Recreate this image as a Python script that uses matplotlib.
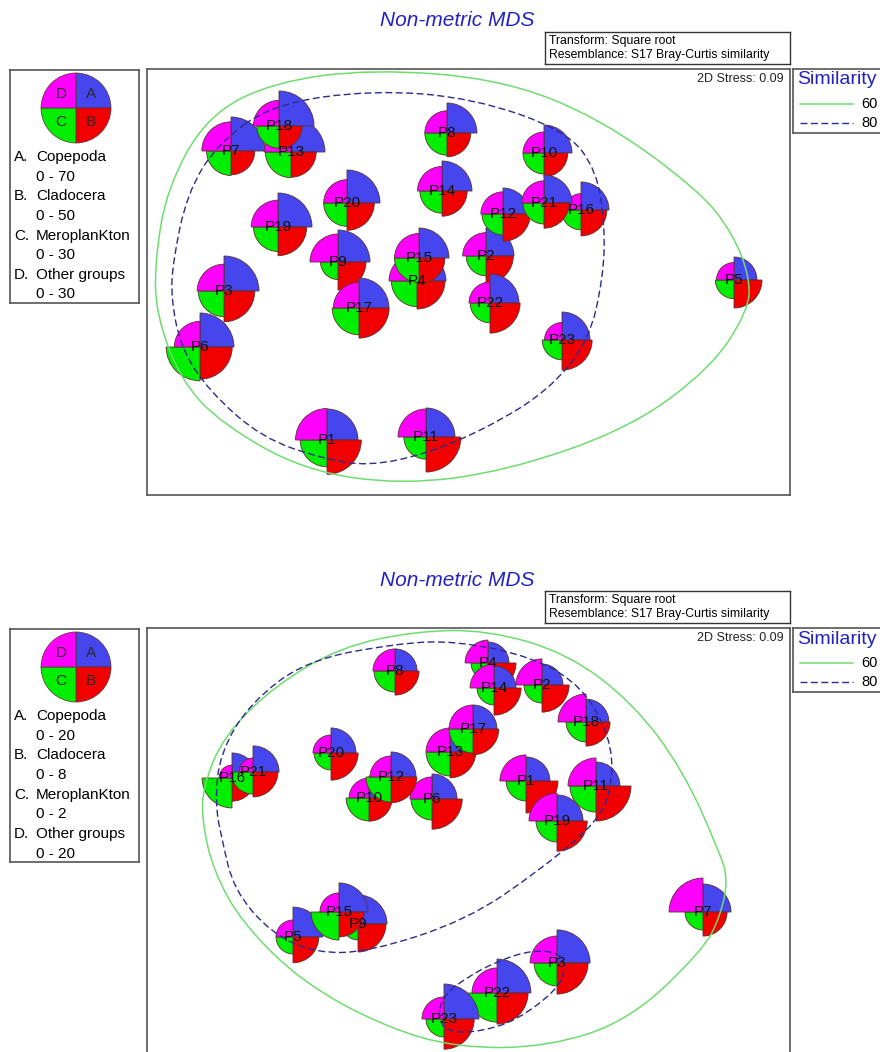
"""
Segmented bubble plots on non-metric MDS ordinations of zooplankton samples.
"""

import matplotlib

matplotlib.use("Agg")
import matplotlib.pyplot as plt
import numpy as np
from matplotlib.patches import PathPatch, Wedge
from matplotlib.path import Path

plt.rcParams.update({"font.family": ["Liberation Sans", "DejaVu Sans"]})

W, H = 880, 1052

SAMPLES = [f"P{i}" for i in range(1, 24)]
GROUPS = ["Copepoda", "Cladocera", "MeroplanKton", "Other groups"]

# --- first survey (ranges 0-70 / 0-50 / 0-30 / 0-30) ---
mds1_x = [-1.41, 0.18, -2.44, -0.51, 2.66, -2.68, -2.37, -0.21, -1.30, 0.76, -0.42, 0.35,
          -1.77, -0.26, -0.49, 1.13, -1.09, -1.89, -1.90, -1.21, 0.76, 0.22, 0.94]
mds1_y = [-1.58, 0.26, -0.09, 0.01, 0.02, -0.65, 1.31, 1.49, 0.20, 1.29, -1.55, 0.68,
          1.30, 0.91, 0.24, 0.72, -0.26, 1.56, 0.55, 0.79, 0.79, -0.21, -0.58]
cope1 = [62, 56, 70, 58, 46, 68, 68, 60, 64, 56, 58, 52, 68, 60, 60, 56, 60, 70, 68, 66, 56, 58, 56]
clad1 = [49, 39, 44, 40, 40, 46, 34, 34, 40, 34, 50, 39, 36, 36, 37, 37, 43, 33, 41, 39, 36, 43, 43]
mero1 = [23, 17, 22, 22, 16, 29, 21, 19, 15, 18, 19, 18, 22, 19, 21, 17, 23, 19, 21, 20, 18, 17, 17]
other1 = [27, 20, 23, 24, 15, 22, 25, 19, 24, 18, 24, 19, 23, 21, 21, 14, 22, 22, 23, 20, 19, 18, 15]
ranges1 = [70, 50, 30, 30]

# --- second survey (ranges 0-20 / 0-8 / 0-2 / 0-20) ---
mds2_x = [0.58, 0.74, 0.89, 0.20, -1.75, -0.36, 2.35, -0.73, -1.10, -0.99, 1.28, -0.77,
          -0.18, 0.26, -1.29, -2.36, 0.05, 1.18, 0.89, -1.37, -2.15, 0.29, -0.24]
mds2_y = [0.60, 1.56, -1.22, 1.78, -0.96, 0.42, -0.71, 1.70, -0.83, 0.43, 0.55, 0.64,
          0.89, 1.53, -0.71, 0.63, 1.12, 1.19, 0.20, 0.88, 0.69, -1.52, -1.78]
cope2 = [13.7, 12.0, 18.9, 12.0, 17.1, 14.3, 16.0, 12.6, 16.6, 12.6, 13.7, 14.3,
         13.7, 12.6, 16.6, 14.3, 13.7, 13.1, 14.9, 14.3, 14.9, 19.4, 20.0]
clad2 = [7.3, 6.2, 7.1, 6.4, 5.9, 6.9, 5.5, 5.5, 6.4, 5.3, 8.0, 5.9,
         5.9, 6.2, 5.7, 5.3, 5.9, 5.5, 6.9, 6.2, 5.7, 7.1, 6.9]
mero2 = [1.14, 1.03, 1.31, 0.97, 0.97, 1.20, 1.03, 1.20, 0.91, 1.31, 1.49, 1.43,
         1.37, 0.97, 1.60, 1.71, 1.37, 1.14, 1.20, 0.97, 1.26, 1.66, 1.03]
other2 = [14.9, 14.9, 15.4, 13.1, 9.7, 12.6, 19.4, 12.6, 10.3, 11.4, 16.0, 12.0,
          13.7, 13.7, 10.9, 7.4, 13.7, 16.0, 16.0, 10.3, 8.0, 14.3, 12.6]
ranges2 = [20, 8, 2, 20]

# similarity contours (control vertices of smoothed outlines)
sim60_1_x = [-0.95, 0.32, 1.32, 2.32, 2.65, 2.82, 2.80, 2.43, 1.62, 0.39, -0.67, -1.65,
             -2.46, -2.87, -3.12, -3.13, -3.01, -2.61, -1.95]
sim60_1_y = [2.13, 2.03, 1.64, 0.91, 0.48, 0.04, -0.29, -0.86, -1.46, -1.89, -2.03, -1.88,
             -1.42, -0.99, -0.32, 0.21, 0.94, 1.66, 2.00]
sim80_1_x = [-1.95, -0.95, 0.05, 0.99, 1.29, 1.37, 1.35, 1.21, 0.80, 0.19, -0.42, -0.99,
             -1.44, -2.06, -2.59, -2.87, -2.97, -2.95, -2.81, -2.51]
sim80_1_y = [1.78, 1.92, 1.84, 1.51, 1.11, 0.54, 0.04, -0.59, -1.09, -1.46, -1.72, -1.84,
             -1.77, -1.56, -1.09, -0.66, -0.16, 0.21, 0.88, 1.38]

sim60_2_x = [-1.28, -0.51, 0.19, 0.99, 1.65, 2.15, 2.52, 2.60, 2.52, 2.35, 1.62, 0.80,
             -0.10, -0.83, -1.65, -2.26, -2.55, -2.66, -2.65, -2.45, -1.95]
sim60_2_y = [1.94, 2.10, 2.11, 1.88, 1.38, 0.71, -0.12, -0.39, -0.76, -1.09, -1.79, -2.06,
             -2.07, -1.86, -1.42, -0.82, -0.29, 0.21, 0.54, 1.04, 1.54]
sim80_2a_x = [-1.61, -0.68, -0.11, 0.65, 1.15, 1.42, 1.45, 1.32, 0.72, -0.01, -0.99, -1.53,
              -1.97, -2.34, -2.46, -2.53, -2.48, -2.18]
sim80_2a_y = [1.81, 1.98, 2.00, 1.84, 1.54, 1.04, 0.61, 0.21, -0.29, -0.79, -1.11, -1.12,
              -0.92, -0.49, 0.01, 0.38, 0.88, 1.38]
sim80_2b_x = [-0.26, -0.01, 0.32, 0.65, 0.92, 0.98, 0.89, 0.49, 0.15, -0.18, -0.30]
sim80_2b_y = [-1.56, -1.36, -1.19, -1.09, -1.12, -1.27, -1.49, -1.79, -1.90, -1.92, -1.79]

SEG_COLORS = ["#4646ee", "#f20000", "#00ee00", "#ff00ff"]  # A, B, C, D
QUADRANTS = [(0, 90), (270, 360), (180, 270), (90, 180)]  # A, B, C, D
FULL_R = 0.35
TITLE_BLUE = "#2222c4"
FRAME = "#555555"


def closed_curve(xs, ys):
    """Smooth closed outline: quadratic Beziers through edge midpoints."""
    pts = np.column_stack([xs, ys])
    mids = (pts + np.roll(pts, -1, axis=0)) / 2
    verts = [mids[-1]]
    codes = [Path.MOVETO]
    for p, m in zip(pts, mids):
        verts += [p, m]
        codes += [Path.CURVE3, Path.CURVE3]
    return Path(verts, codes)


def draw_glyph(ax, x, y, radii, lw=0.6):
    for r, (t1, t2), c in zip(radii, QUADRANTS, SEG_COLORS):
        ax.add_patch(Wedge((x, y), r, t1, t2, facecolor=c, edgecolor="#5a3030", linewidth=lw))


def frame(ax):
    ax.set_xticks([])
    ax.set_yticks([])
    for s in ax.spines.values():
        s.set_color(FRAME)
        s.set_linewidth(1.2)


def draw_panel(top, xs, ys, values, ranges, contours60, contours80):
    ax = fig.add_axes([147 / W, 1 - (top + 426) / H, 643 / W, 426 / H])
    ax.set_xlim(-3.21, 3.22)
    ax.set_ylim(-2.13, 2.13)
    frame(ax)

    for i in range(len(xs)):
        radii = [FULL_R * values[k][i] / ranges[k] for k in range(4)]
        draw_glyph(ax, xs[i], ys[i], radii)

    for cx, cy in contours60:
        ax.add_patch(PathPatch(closed_curve(cx, cy), facecolor="none",
                               edgecolor="#6fdc6f", linewidth=1.1, zorder=5))
    for cx, cy in contours80:
        ax.add_patch(PathPatch(closed_curve(cx, cy), facecolor="none", edgecolor="#2c2c8a",
                               linewidth=1.0, linestyle=(0, (5, 2.5)), zorder=5))

    for name, x, y in zip(SAMPLES, xs, ys):
        ax.text(x, y, name, ha="center", va="center", fontsize=11, color="#111111",
                zorder=6)
    ax.text(3.16, 2.03, "2D Stress: 0.09", ha="right", va="center", fontsize=9, color="#222222")

    # title and resemblance box
    fig.text(457 / W, 1 - (top - 48) / H, "Non-metric MDS", ha="center", va="center",
             fontsize=15, style="italic", color=TITLE_BLUE)
    tb = fig.add_axes([545 / W, 1 - (top - 5) / H, 245 / W, 32 / H])
    frame(tb)
    tb.spines[:].set_color("#333333")
    tb.spines[:].set_linewidth(1.0)
    tb.text(0.015, 0.73, "Transform: Square root", transform=tb.transAxes,
            va="center", fontsize=8.8)
    tb.text(0.015, 0.27, "Resemblance: S17 Bray-Curtis similarity", transform=tb.transAxes,
            va="center", fontsize=8.8)

    # segment key
    key = fig.add_axes([10 / W, 1 - (top + 234) / H, 129 / W, 233 / H])
    key.set_xlim(0, 129)
    key.set_ylim(0, 233)
    frame(key)
    draw_glyph(key, 66, 233 - 38, [35] * 4, lw=0.5)
    for letter, dx, dy in [("A", 15, 14), ("B", 15, -14), ("C", -15, -14), ("D", -15, 14)]:
        key.text(66 + dx, 233 - 38 + dy, letter, ha="center", va="center", fontsize=11,
                 color="#2a2a2a")
    y0 = 233 - 87
    for k, (g, rng) in enumerate(zip(GROUPS, ranges)):
        yy = y0 - k * 39.3
        key.text(4, yy, "ABCD"[k] + ".", va="center", fontsize=11)
        key.text(26, yy, g, va="center", fontsize=11)
        key.text(26, yy - 19.6, f"0 - {rng}", va="center", fontsize=11)

    # similarity key
    sk = fig.add_axes([793 / W, 1 - (top + 64) / H, 100 / W, 64 / H])
    sk.set_xlim(0, 100)
    sk.set_ylim(64, 0)
    frame(sk)
    sk.text(4, 11, "Similarity", va="center", fontsize=14, color=TITLE_BLUE)
    sk.plot([7, 60], [35, 35], color="#6fdc6f", linewidth=1.1)
    sk.plot([7, 60], [54, 54], color="#2c2c8a", linewidth=1.0, linestyle=(0, (5, 2.5)))
    sk.text(68, 35, "60", va="center", fontsize=10.5)
    sk.text(68, 54, "80", va="center", fontsize=10.5)


fig = plt.figure(figsize=(W / 100, H / 100), dpi=100)
fig.patch.set_facecolor("white")

draw_panel(
    69, mds1_x, mds1_y, [cope1, clad1, mero1, other1], ranges1,
    [(sim60_1_x, sim60_1_y)], [(sim80_1_x, sim80_1_y)],
)
draw_panel(
    628, mds2_x, mds2_y, [cope2, clad2, mero2, other2], ranges2,
    [(sim60_2_x, sim60_2_y)], [(sim80_2a_x, sim80_2a_y), (sim80_2b_x, sim80_2b_y)],
)

fig.savefig("out.png", dpi=100)
plt.close(fig)
